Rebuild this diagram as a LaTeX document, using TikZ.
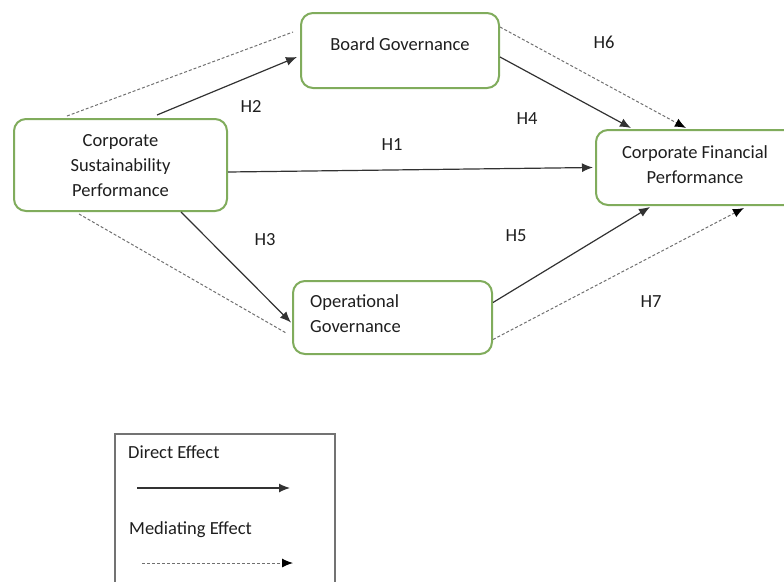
\documentclass[tikz,border=0pt]{standalone}
\usepackage{fontspec}
\setmainfont{Carlito}
\usetikzlibrary{arrows.meta}
\definecolor{boxgreen}{RGB}{128,172,92}
\definecolor{ink}{RGB}{30,30,30}
\definecolor{lineink}{RGB}{50,50,50}
\begin{document}
\begin{tikzpicture}[x=1pt,y=-1pt,
  box/.style={draw=boxgreen, line width=2pt, rounded corners=12pt, inner sep=0pt, fill=white},
  txt/.style={font=\fontsize{18.5}{25}\selectfont, text=ink, inner sep=0pt},
  direct/.style={draw=lineink, line width=1.2pt, -{Latex[length=11pt,width=9pt]}},
  med/.style={draw=lineink!70, line width=1pt, dash pattern=on 3pt off 2pt},
  medarrow/.style={med, -{Latex[length=11pt,width=9pt,color=black]}}
]
\useasboundingbox (0,0) rectangle (784,581);
\clip (0,0) rectangle (784,581);
% boxes
\node[box, minimum width=213pt, minimum height=92pt] (csp) at (120.5,165) {};
\node[txt, align=center] (csptext) at (120.5,166) {Corporate\\Sustainability\\Performance};
\node[box, minimum width=198pt, minimum height=75pt] (bg) at (400,50.5) {};
\node[txt] (bgtext) at (400,44) {Board Governance};
\node[box, minimum width=199pt, minimum height=73pt] (op) at (392.5,317.5) {};
\node[txt, align=left, anchor=west] (optext) at (310,314) {Operational\\Governance};
\node[box, minimum width=200pt, minimum height=75pt] (cfp) at (696,167.5) {};
\node[txt, align=center] (cfptext) at (695,165) {Corporate Financial\\Performance};
% connectors
\draw[med] ([xshift=54pt,yshift=2pt]csp.north west) -- ([xshift=-7pt,yshift=-20pt]bg.north west);
\draw[direct] ([xshift=144pt,yshift=3pt]csp.north west) -- ([xshift=-3pt,yshift=-45pt]bg.north west);
\draw[direct] ([yshift=-7pt]csp.east) -- ([xshift=-2pt]cfp.west);
\draw[direct] ([yshift=-45pt]bg.north east) -- ([xshift=36pt,yshift=1pt]cfp.north west);
\draw[medarrow] ([yshift=-15pt]bg.north east) -- ([xshift=91pt,yshift=1pt]cfp.north west);
\draw[direct] ([xshift=168pt]csp.south west) -- ([xshift=-1pt,yshift=-5pt]op.west);
\draw[med] ([xshift=66pt,yshift=-2pt]csp.south west) -- ([xshift=-5pt,yshift=-16pt]op.west);
\draw[direct] ([yshift=15pt]op.east) -- ([xshift=55pt,yshift=-1pt]cfp.south west);
\draw[medarrow] ([yshift=-22pt]op.east) -- ([xshift=149pt,yshift=-2pt]cfp.south west);
% labels
\node[txt] (h1) at (392,145) {H1};
\node[txt] (h2) at (251,106) {H2};
\node[txt] (h3) at (265,240) {H3};
\node[txt] (h4) at (527,119) {H4};
\node[txt] (h5) at (516,236) {H5};
\node[txt] (h6) at (604,42) {H6};
\node[txt] (h7) at (651,302) {H7};
% legend
\draw[draw=black!55, line width=1.2pt] (115,434) rectangle (335,600);
\node[txt, anchor=west] (ldirect) at (128,452) {Direct Effect};
\coordinate (d1) at (137,488);
\coordinate (d2) at (290,488);
\draw[direct] (d1) -- (d2);
\node[txt, anchor=west] (lmed) at (129,530) {Mediating Effect};
\coordinate (m1) at (142,563);
\coordinate (m2) at (293,563);
\draw[medarrow] (m1) -- (m2);
\end{tikzpicture}
\end{document}
